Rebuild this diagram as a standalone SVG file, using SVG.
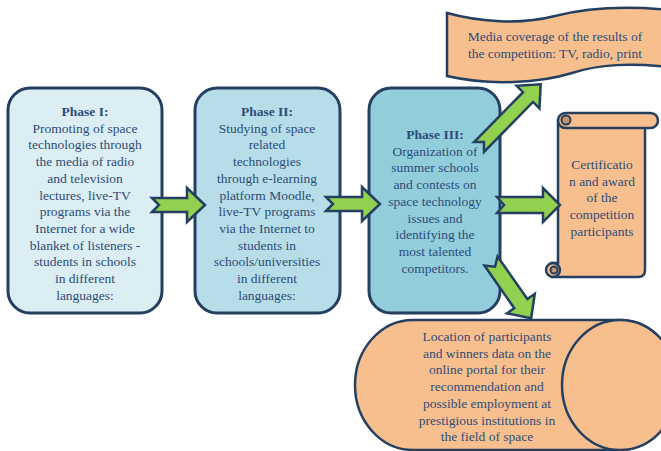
<svg xmlns="http://www.w3.org/2000/svg" width="661" height="451" viewBox="0 0 661 451">
<style>
.box{stroke:#243F60;stroke-width:3}
.peach{fill:#F8BF8E;stroke:#243F60;stroke-width:2.5}
.curl{fill:#C8946A;stroke:#243F60;stroke-width:2}
.arr{fill:#92D050;stroke:#243F60;stroke-width:2.5;stroke-linejoin:miter}
text{font-family:'Liberation Serif','DejaVu Serif',serif;font-size:13.5px;fill:#2E4C78;text-anchor:middle}
.b{font-weight:bold}
</style>
<rect width="661" height="451" fill="#ffffff"/>
<g id="phase1">
<rect class="box" x="8" y="88" width="154" height="225" rx="22" fill="#DBEEF4"/>
<text class="b" x="85" y="116">Phase I:</text>
<text x="85" y="132.7">Promoting of space</text>
<text x="85" y="149.4">technologies through</text>
<text x="85" y="166.1">the media of radio</text>
<text x="85" y="182.8">and television</text>
<text x="85" y="199.5">lectures, live-TV</text>
<text x="85" y="216.2">programs via the</text>
<text x="85" y="232.9">Internet for a wide</text>
<text x="85" y="249.6">blanket of listeners -</text>
<text x="85" y="266.3">students in schools</text>
<text x="85" y="283">in different</text>
<text x="85" y="299.7">languages:</text>
</g>
<g id="phase2">
<rect class="box" x="195" y="88" width="145" height="225" rx="22" fill="#B7DEE8"/>
<text class="b" x="267" y="116">Phase II:</text>
<text x="267" y="132.7">Studying of space</text>
<text x="267" y="149.4">related</text>
<text x="267" y="166.1">technologies</text>
<text x="267" y="182.8">through e-learning</text>
<text x="267" y="199.5">platform Moodle,</text>
<text x="267" y="216.2">live-TV programs</text>
<text x="267" y="232.9">via the Internet to</text>
<text x="267" y="249.6">students in</text>
<text x="267" y="266.3">schools/universities</text>
<text x="267" y="283">in different</text>
<text x="267" y="299.7">languages:</text>
</g>
<g id="phase3">
<rect class="box" x="369" y="88" width="131" height="225" rx="22" fill="#92CDDC"/>
<text class="b" x="435" y="139">Phase III:</text>
<text x="435" y="155.7">Organization of</text>
<text x="435" y="172.4">summer schools</text>
<text x="435" y="189.1">and contests on</text>
<text x="435" y="205.8">space technology</text>
<text x="435" y="222.5">issues and</text>
<text x="435" y="239.2">identifying the</text>
<text x="435" y="255.9">most talented</text>
<text x="435" y="272.6">competitors.</text>
</g>
<g id="media">
<path class="peach" d="M447,13 C480,22 520,25 555,16 C590,7 630,6 670,10 L670,67 C630,63 600,64 572,73 C540,83 490,86 447,76 Z"/>
<text x="555" y="41">Media coverage of the results of</text>
<text x="555" y="57.5">the competition: TV, radio, print</text>
</g>
<g id="certification">
<path class="peach" d="M558,120 L645,120 L645,270 Q645,277 638,277 L552,277 L552,263 L558,263 Z"/>
<rect class="peach" x="558" y="113" width="100" height="15" rx="7.5"/>
<circle class="curl" cx="566" cy="120" r="4.5"/>
<circle class="peach" cx="553" cy="270" r="7"/>
<circle class="curl" cx="554" cy="270" r="3.5"/>
<text x="602" y="169">Certificatio</text>
<text x="602" y="185.7">n and award</text>
<text x="602" y="202.4">of the</text>
<text x="602" y="219.1">competition</text>
<text x="602" y="235.8">participants</text>
</g>
<g id="location">
<path class="peach" d="M413,320 L620,320 A58,65 0 0 1 620,450 L413,450 A58,65 0 0 1 413,320 Z"/>
<ellipse class="peach" cx="620" cy="385" rx="58" ry="65"/>
<text x="487" y="341">Location of participants</text>
<text x="487" y="357.7">and winners data on the</text>
<text x="487" y="374.4">online portal for their</text>
<text x="487" y="391.1">recommendation and</text>
<text x="487" y="407.8">possible employment at</text>
<text x="487" y="424.5">prestigious institutions in</text>
<text x="487" y="441.2">the field of space</text>
</g>
<g id="connectors">
<path class="arr" transform="translate(152,205)" d="M0,-7 L35,-7 L35,-17 L53,0 L35,17 L35,7 L0,7 L7,0 Z"/>
<path class="arr" transform="translate(326,204)" d="M0,-7 L36,-7 L36,-17 L54,0 L36,17 L36,7 L0,7 L7,0 Z"/>
<path class="arr" transform="translate(497,205)" d="M0,-8 L46,-8 L46,-17 L63,0 L46,17 L46,8 L0,8 L7,0 Z"/>
<path class="arr" transform="translate(479,147) rotate(-45.5)" d="M0,-7 L70,-7 L70,-16 L88,0 L70,16 L70,7 L0,7 L7,0 Z"/>
<path class="arr" transform="translate(491,261) rotate(55)" d="M0,-8 L52,-8 L52,-17 L70,0 L52,17 L52,8 L0,8 L7,0 Z"/>
</g>
</svg>
